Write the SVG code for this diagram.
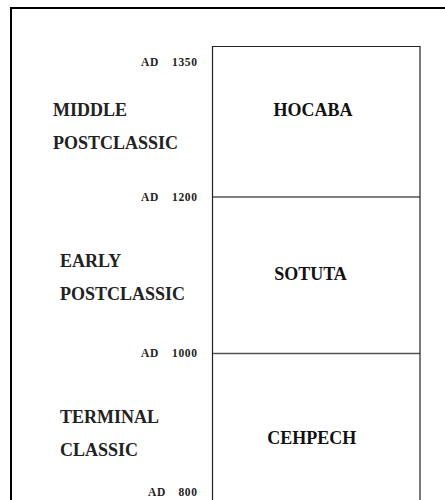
<svg xmlns="http://www.w3.org/2000/svg" width="445" height="500" viewBox="0 0 445 500" font-family="'Liberation Serif', 'Times New Roman', Tinos, 'DejaVu Serif', serif">
<style>
text{font-family:"Liberation Serif","Times New Roman",Tinos,"DejaVu Serif",serif;font-weight:bold}
.date{font-size:11.5px;fill:#222;letter-spacing:0.6px}
.num{text-anchor:end}
.era{font-size:18px;fill:#222}
.phase{font-size:18px;fill:#111;text-anchor:middle}
.box{fill:none;stroke:#222;stroke-width:1.2}
.div{stroke:#555;stroke-width:1.3}
</style>
<rect width="445" height="500" fill="#fff"/>
<path d="M11 510 V8 H450" fill="none" stroke="#000" stroke-width="2"/>
<g id="connectors">
<line class="div" x1="212.5" y1="197" x2="420" y2="197"/>
<line class="div" x1="212.5" y1="353.5" x2="420" y2="353.5"/>
</g>
<g id="hocaba">
<path class="box" d="M212.5 510 V46.5 H420 V510"/>
<text class="phase" x="313" y="116">HOCABA</text>
</g>
<g id="sotuta"><text class="phase" x="310.5" y="280">SOTUTA</text></g>
<g id="cehpech"><text class="phase" x="311.7" y="444">CEHPECH</text></g>
<g id="middle-postclassic">
<text class="era" x="53" y="116">MIDDLE</text>
<text class="era" x="53" y="149">POSTCLASSIC</text>
</g>
<g id="early-postclassic">
<text class="era" x="60" y="267">EARLY</text>
<text class="era" x="60" y="300">POSTCLASSIC</text>
</g>
<g id="terminal-classic">
<text class="era" x="60" y="423">TERMINAL</text>
<text class="era" x="60" y="456">CLASSIC</text>
</g>
<g id="dates">
<text class="date" y="66"><tspan x="141">AD</tspan><tspan class="num" x="197.5">1350</tspan></text>
<text class="date" y="201"><tspan x="141">AD</tspan><tspan class="num" x="197.5">1200</tspan></text>
<text class="date" y="357"><tspan x="141">AD</tspan><tspan class="num" x="197.5">1000</tspan></text>
<text class="date" y="496"><tspan x="148">AD</tspan><tspan class="num" x="197.5">800</tspan></text>
</g>
</svg>
